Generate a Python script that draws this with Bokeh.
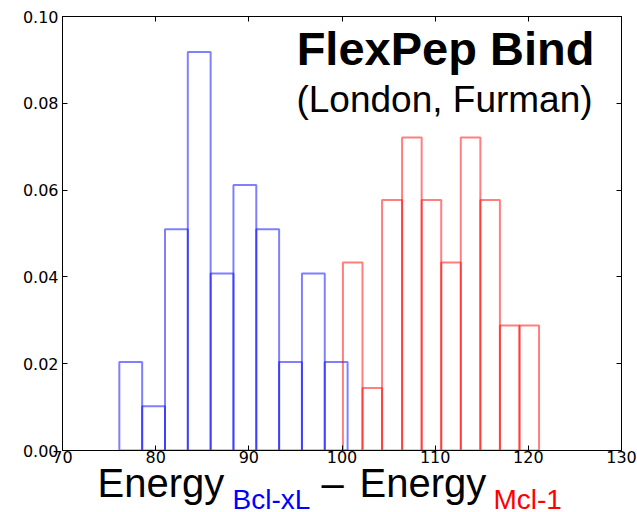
from bokeh.plotting import figure
from bokeh.layouts import column
from bokeh.models import (Range1d, FixedTicker, PrintfTickFormatter, LinearAxis, Label,
                          CustomJSTickFormatter)
from bokeh.embed import file_html
from bokeh.resources import INLINE

# ---- data ----
x_ticks = [70, 80, 90, 100, 110, 120, 130]
y_ticks = [0.0, 0.02, 0.04, 0.06, 0.08, 0.10]

blue_edges = [76.1, 78.55, 81.0, 83.45, 85.9, 88.35, 90.8, 93.25, 95.7, 98.15, 100.6]
blue_density = [0.0204, 0.0102, 0.0510, 0.0918, 0.0408, 0.0612, 0.0510, 0.0204, 0.0408, 0.0204]

red_edges = [100.1, 102.2, 104.3, 106.45, 108.55, 110.65, 112.75, 114.85, 116.95, 119.05, 121.15]
red_density = [0.0433, 0.0144, 0.0577, 0.0721, 0.0577, 0.0433, 0.0721, 0.0577, 0.0288, 0.0288]

title_text = "FlexPep Bind"
subtitle_text = "(London, Furman)"
xlabel_parts = [("Energy", "black"), ("Bcl-xL", "#0000ff"), ("\u2013", "black"),
                ("Energy", "black"), ("Mcl-1", "#ff0000")]

W = 637
H_MAIN = 468
H_LABEL = 512 - H_MAIN
FL, FR = 62, 16   # frame borders (left, right) in pixels

# ---- main figure ----
p = figure(width=W, height=H_MAIN, output_backend="svg", toolbar_location=None,
           x_range=Range1d(70, 130), y_range=Range1d(0, 0.10),
           min_border_left=FL, min_border_right=FR, min_border_top=16, min_border_bottom=18)
p.background_fill_color = "white"
p.border_fill_color = "white"
p.outline_line_color = "black"
p.outline_line_width = 1
p.grid.visible = False

def style_axis(ax):
    ax.major_tick_in = 5
    ax.major_tick_out = 0
    ax.minor_tick_line_color = None
    ax.major_tick_line_color = "black"
    ax.axis_line_color = "black"
    ax.major_label_text_font = "DejaVu Sans"
    ax.major_label_text_font_size = "16px"
    ax.major_label_text_color = "black"
    ax.major_label_standoff = 4

style_axis(p.xaxis[0])
style_axis(p.yaxis[0])
p.xaxis[0].major_label_standoff = 0
p.xaxis[0].ticker = FixedTicker(ticks=x_ticks)
p.yaxis[0].ticker = FixedTicker(ticks=y_ticks)
p.yaxis[0].formatter = PrintfTickFormatter(format="%.2f")

blank = CustomJSTickFormatter(code="return ''")
top_ax = LinearAxis(ticker=FixedTicker(ticks=x_ticks), formatter=blank)
style_axis(top_ax)
top_ax.major_label_standoff = 0
p.add_layout(top_ax, "above")
right_ax = LinearAxis(ticker=FixedTicker(ticks=y_ticks), formatter=blank)
style_axis(right_ax)
right_ax.major_label_standoff = 0
p.add_layout(right_ax, "right")

# ---- histograms ----
p.quad(left=blue_edges[:-1], right=blue_edges[1:], bottom=0, top=blue_density,
       fill_color=None, line_color="#0000ff", line_alpha=0.5, line_width=2)
p.quad(left=red_edges[:-1], right=red_edges[1:], bottom=0, top=red_density,
       fill_color=None, line_color="#ff0000", line_alpha=0.5, line_width=2)

# ---- title texts ----
p.add_layout(Label(x=383, y=402, x_units="screen", y_units="screen", text=title_text,
                   text_align="center", text_baseline="alphabetic",
                   text_font="Liberation Sans", text_font_style="bold",
                   text_font_size="47px", text_color="black"))
p.add_layout(Label(x=382, y=351, x_units="screen", y_units="screen", text=subtitle_text,
                   text_align="center", text_baseline="alphabetic",
                   text_font="Liberation Sans", text_font_size="37px", text_color="black"))

# ---- x label strip (separate panel; its frame is aligned with the main frame) ----
q = figure(width=W, height=H_LABEL, output_backend="svg", toolbar_location=None,
           x_range=Range1d(FL, W - FR), y_range=Range1d(0, H_LABEL),
           min_border_left=FL, min_border_right=FR, min_border_top=0, min_border_bottom=0)
q.axis.visible = False
q.grid.visible = False
q.outline_line_color = None
q.background_fill_color = "white"
q.border_fill_color = "white"

pos = [(97, 30, "40px"), (232, 13, "28px"), (321, 30, "40px"), (359, 30, "40px"), (493, 13, "28px")]
for (txt, col), (x, y, size) in zip(xlabel_parts, pos):
    q.add_layout(Label(x=x, y=y, text=txt, text_align="left", text_baseline="alphabetic",
                       text_font="Liberation Sans", text_font_size=size, text_color=col))

layout = column(p, q, spacing=0)
open("out.html", "w").write(file_html(layout, INLINE))
